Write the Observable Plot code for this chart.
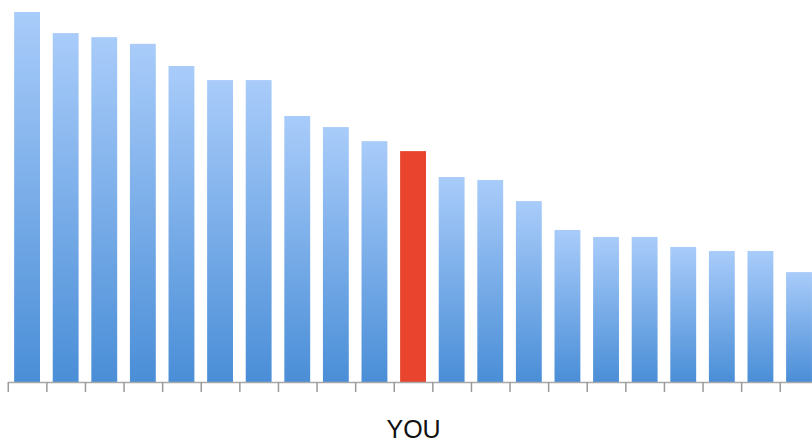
<!DOCTYPE html>
<html>
<head>
<meta charset="utf-8">
<script src="https://cdn.jsdelivr.net/npm/d3@7"></script>
<script src="https://cdn.jsdelivr.net/npm/@observablehq/plot@0.6"></script>
<style>
  html, body { margin: 0; padding: 0; background: #fff; }
  #chart svg { display: block; }
</style>
</head>
<body>
<div id="chart"></div>
<script>
// Ranked scores, highest first; one entry is the viewer's own result.
const ranks = ["1","2","3","4","5","6","7","8","9","10","11","12","13","14","15","16","17","18","19","20","21"];
const scores = [100, 94.3, 93.2, 91.4, 85.4, 81.6, 81.6, 71.9, 68.9, 65.1, 62.4, 55.4, 54.6, 48.9, 41.1, 39.2, 39.2, 36.5, 35.4, 35.4, 29.7];
const youRank = "11";
const youLabel = "YOU";

const data = ranks.map((r, i) => ({rank: r, score: scores[i], you: r === youRank}));

const W = 812, H = 443;
const pad = 0.33;
const xRange = [1.4, 824.7];
const step = (xRange[1] - xRange[0]) / (ranks.length - pad + 2 * pad);

const plot = Plot.plot({
  width: W,
  height: H,
  marginTop: 12,
  marginBottom: 61,
  marginLeft: 8,
  marginRight: 0,
  style: {background: "#fff", fontFamily: "'Liberation Sans', Arial, sans-serif"},
  x: {domain: ranks, range: xRange, padding: pad, round: false, label: null},
  y: {domain: [0, 100], axis: null},
  marks: [
    Plot.barY(data, {
      x: "rank",
      y: "score",
      fill: d => d.you ? "#e9442d" : "url(#barGrad)",
      style: "filter: url(#barShadow)"
    }),
    Plot.ruleY([0], {stroke: "#a8a8a8", strokeWidth: 1.5}),
    // tick marks sit between the bars
    Plot.axisX({tickSize: 10, tickFormat: () => "", stroke: "#9a9a9a", strokeWidth: 1.5, dx: -step / 2, label: null}),
    Plot.axisX({tickSize: 0, tickPadding: 38, fontSize: 25, fill: "#111",
      tickFormat: d => d === youRank ? youLabel : "", label: null})
  ]
});

// gradient and soft edge for the bars
const ns = "http://www.w3.org/2000/svg";
const defs = document.createElementNS(ns, "defs");
defs.innerHTML = `
  <linearGradient id="barGrad" x1="0" y1="0" x2="0" y2="1">
    <stop offset="0" stop-color="#a9ccfa"/>
    <stop offset="1" stop-color="#4a8ed7"/>
  </linearGradient>
  <filter id="barShadow" x="-20%" y="-5%" width="140%" height="110%">
    <feDropShadow dx="0" dy="0" stdDeviation="1" flood-color="#777" flood-opacity="0.45"/>
  </filter>`;
plot.insertBefore(defs, plot.firstChild);

document.getElementById("chart").appendChild(plot);
</script>
</body>
</html>
